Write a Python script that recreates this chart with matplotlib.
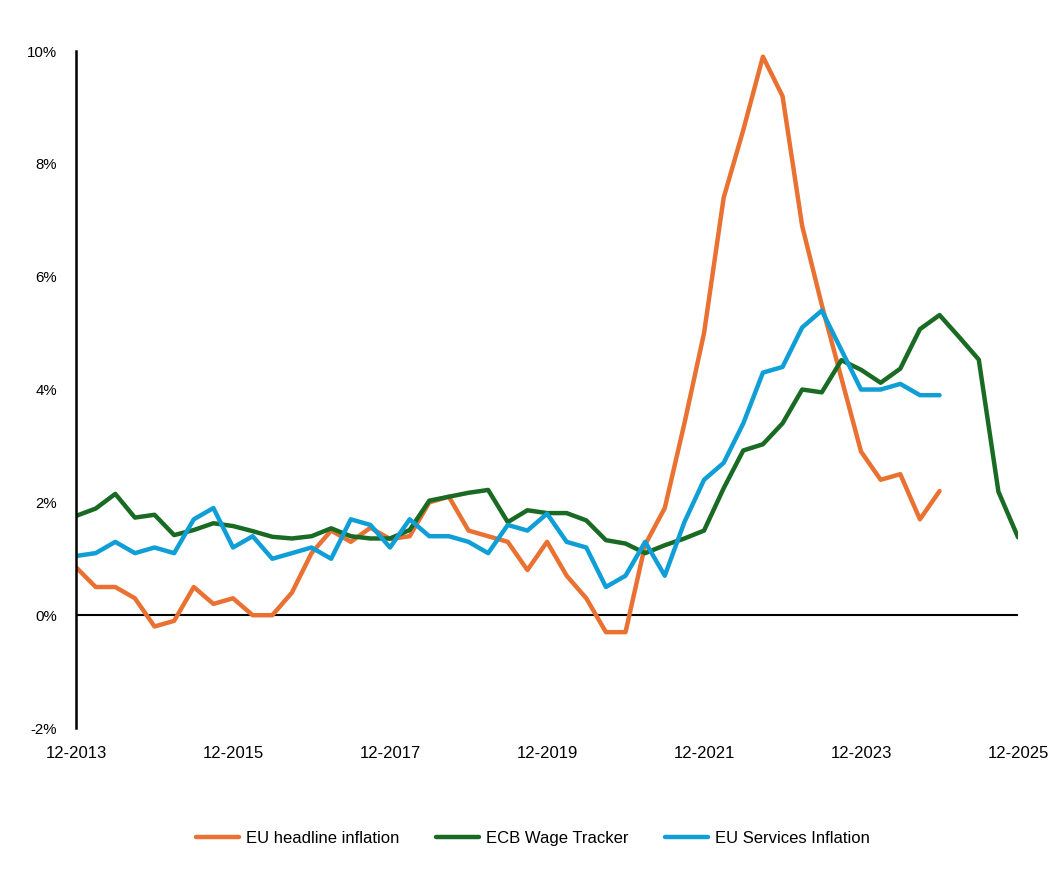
import matplotlib.pyplot as plt
from matplotlib.ticker import FuncFormatter

# quarterly values, first point 12-2013
headline = [0.85, 0.5, 0.5, 0.3, -0.2, -0.1, 0.5, 0.2, 0.3, 0.0, 0.0, 0.4,
            1.1, 1.5, 1.3, 1.55, 1.35, 1.4, 2.0, 2.1, 1.5, 1.4, 1.3, 0.8,
            1.3, 0.7, 0.3, -0.3, -0.3, 1.25, 1.9, 3.4, 5.0, 7.4, 8.6, 9.9,
            9.2, 6.9, 5.5, 4.2, 2.9, 2.4, 2.5, 1.7, 2.2]
wage = [1.76, 1.89, 2.15, 1.73, 1.78, 1.42, 1.51, 1.63, 1.58, 1.49, 1.39, 1.36,
        1.4, 1.54, 1.4, 1.36, 1.36, 1.51, 2.03, 2.1, 2.17, 2.22, 1.65, 1.86,
        1.81, 1.81, 1.68, 1.33, 1.27, 1.1, 1.24, 1.36, 1.5, 2.25, 2.92, 3.03,
        3.4, 4.0, 3.95, 4.52, 4.35, 4.12, 4.37, 5.07, 5.32, 4.93, 4.53, 2.19,
        1.38]
services = [1.05, 1.1, 1.3, 1.1, 1.2, 1.1, 1.7, 1.9, 1.2, 1.4, 1.0, 1.1,
            1.2, 1.0, 1.7, 1.6, 1.2, 1.7, 1.4, 1.4, 1.3, 1.1, 1.6, 1.5,
            1.8, 1.3, 1.2, 0.5, 0.7, 1.3, 0.7, 1.65, 2.4, 2.7, 3.4, 4.3,
            4.4, 5.1, 5.4, 4.7, 4.0, 4.0, 4.1, 3.9, 3.9]
tick_labels = ['12-2013', '12-2015', '12-2017', '12-2019', '12-2021', '12-2023', '12-2025']

fig = plt.figure(figsize=(10.53, 8.69), dpi=100)
ax = fig.add_axes([0.0722, 0.1622, 0.8946, 0.7791])

ax.plot(range(len(headline)), headline, color='#E97132', lw=3.2,
        solid_joinstyle='round', solid_capstyle='round', label='EU headline inflation')
ax.plot(range(len(wage)), wage, color='#196B24', lw=3.2,
        solid_joinstyle='round', solid_capstyle='round', label='ECB Wage Tracker')
ax.plot(range(len(services)), services, color='#0F9ED5', lw=3.2,
        solid_joinstyle='round', solid_capstyle='round', label='EU Services Inflation')

ax.axhline(0, color='black', lw=1.5, zorder=1)
ax.set_xlim(0, 48)
ax.set_ylim(-2, 10)
ax.set_yticks(range(-2, 11, 2))
ax.yaxis.set_major_formatter(FuncFormatter(lambda v, p: f'{v:.0f}%'))
ax.set_xticks(range(0, 49, 8))
ax.set_xticklabels(tick_labels)

for s in ['top', 'right', 'bottom']:
    ax.spines[s].set_visible(False)
ax.spines['left'].set_linewidth(1.8)
ax.tick_params(length=0)
ax.tick_params(axis='y', labelsize=10.8, pad=13.5)
ax.tick_params(axis='x', labelsize=12, pad=13)
for t in ax.get_yticklabels() + ax.get_xticklabels():
    t.set_family(['Liberation Sans', 'DejaVu Sans'])

fig.legend(loc='center', bbox_to_anchor=(0.506, 0.035), ncol=3, frameon=False,
           handlelength=2.6, columnspacing=2.2, handletextpad=0.4,
           prop={'family': ['Liberation Sans Narrow', 'Liberation Sans', 'DejaVu Sans'], 'size': 12})

fig.savefig('out.png')
